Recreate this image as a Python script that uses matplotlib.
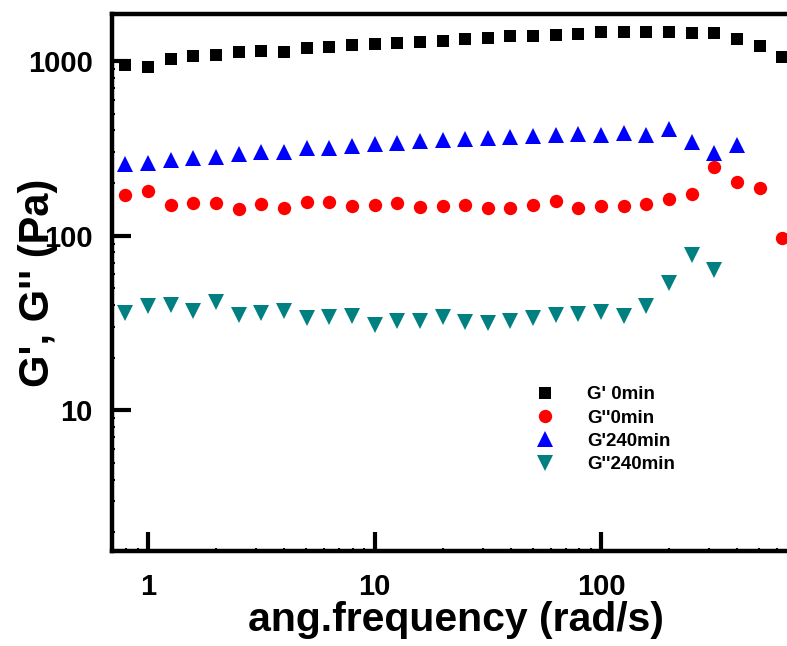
import matplotlib
matplotlib.use("Agg")
import matplotlib.pyplot as plt
from matplotlib.ticker import FixedLocator, FixedFormatter, LogLocator, NullFormatter

plt.rcParams['font.family'] = ['Liberation Sans', 'DejaVu Sans']
plt.rcParams['font.weight'] = 'bold'

# angular frequency sweep (rad/s)
freq = [0.794, 1.0, 1.26, 1.58, 2.0, 2.51, 3.16, 3.98, 5.01, 6.31,
        7.94, 10.0, 12.6, 15.8, 20.0, 25.1, 31.6, 39.8, 50.1, 63.1,
        79.4, 100.0, 126.0, 158.0, 200.0, 251.0, 316.0, 398.0, 501.0, 631.0]

g1_0 = [949, 928, 1023, 1068, 1082, 1121, 1146, 1125, 1182, 1207,
        1235, 1251, 1263, 1280, 1307, 1337, 1355, 1391, 1395, 1415,
        1434, 1460, 1466, 1472, 1466, 1453, 1446, 1337, 1224, 1050]

g2_0 = [171, 181, 150, 153, 153, 142, 152, 143, 155, 155,
        148, 150, 153, 145, 148, 150, 144, 143, 150, 157,
        143, 147, 148, 152, 162, 173, 247, 202, 188, 97]

g1_240 = [258, 262, 271, 278, 283, 293, 300, 302, 316, 316,
          326, 335, 337, 347, 352, 359, 362, 367, 372, 377,
          383, 377, 385, 378, 406, 342, 296, 330]

g2_240 = [36.1, 39.5, 39.8, 36.8, 41.4, 34.9, 35.8, 36.8, 33.8, 34.0,
          34.7, 30.7, 32.5, 32.2, 34.1, 31.8, 31.4, 32.2, 33.5, 34.9,
          35.5, 36.6, 34.4, 39.4, 53.2, 77.3, 63.4]

labels = ["G' 0min", "G''0min", "G'240min", "G''240min"]

fig = plt.figure(figsize=(7.87, 6.46), dpi=100)
ax = fig.add_axes([112 / 787, 95 / 646, 688 / 787, 537 / 646])

ax.plot(freq, g1_0, 's', color='black', ms=8.6, mew=0, label=labels[0])
ax.plot(freq, g2_0, 'o', color='red', ms=9.6, mew=0, label=labels[1])
ax.plot(freq[:len(g1_240)], g1_240, '^', color='blue', ms=11, mew=0, label=labels[2])
ax.plot(freq[:len(g2_240)], g2_240, 'v', color='teal', ms=11, mew=0, label=labels[3])

ax.set_xscale('log')
ax.set_yscale('log')
ax.set_xlim(0.693, 756)
ax.set_ylim(1.56, 1858)

ax.xaxis.set_major_locator(FixedLocator([1, 10, 100]))
ax.xaxis.set_major_formatter(FixedFormatter(['1', '10', '100']))
ax.yaxis.set_major_locator(FixedLocator([10, 100, 1000]))
ax.yaxis.set_major_formatter(FixedFormatter(['10', '100', '1000']))
ax.xaxis.set_minor_locator(LogLocator(subs=range(2, 10)))
ax.yaxis.set_minor_locator(LogLocator(subs=range(2, 10)))
ax.xaxis.set_minor_formatter(NullFormatter())
ax.yaxis.set_minor_formatter(NullFormatter())

for s in ax.spines.values():
    s.set_linewidth(3.2)
ax.spines['right'].set_visible(False)

ax.tick_params(which='major', direction='in', length=14, width=3,
               labelsize=21, pad=14)
ax.tick_params(axis='x', which='major', pad=16)
ax.tick_params(which='minor', direction='in', length=2, width=1.5)

ax.set_xlabel('ang.frequency (rad/s)', fontsize=29.5, fontweight='bold', labelpad=0)
ax.set_ylabel("G', G'' (Pa)", fontsize=30, fontweight='bold')
ax.yaxis.set_label_coords(-0.078, 0.5)

ax.legend(loc='upper left', bbox_to_anchor=(0.609, 0.307), frameon=False,
          fontsize=13.5, handletextpad=1.5, labelspacing=0.33,
          borderaxespad=0, borderpad=0, handlelength=1.5)

fig.savefig('out.png', dpi=100)
